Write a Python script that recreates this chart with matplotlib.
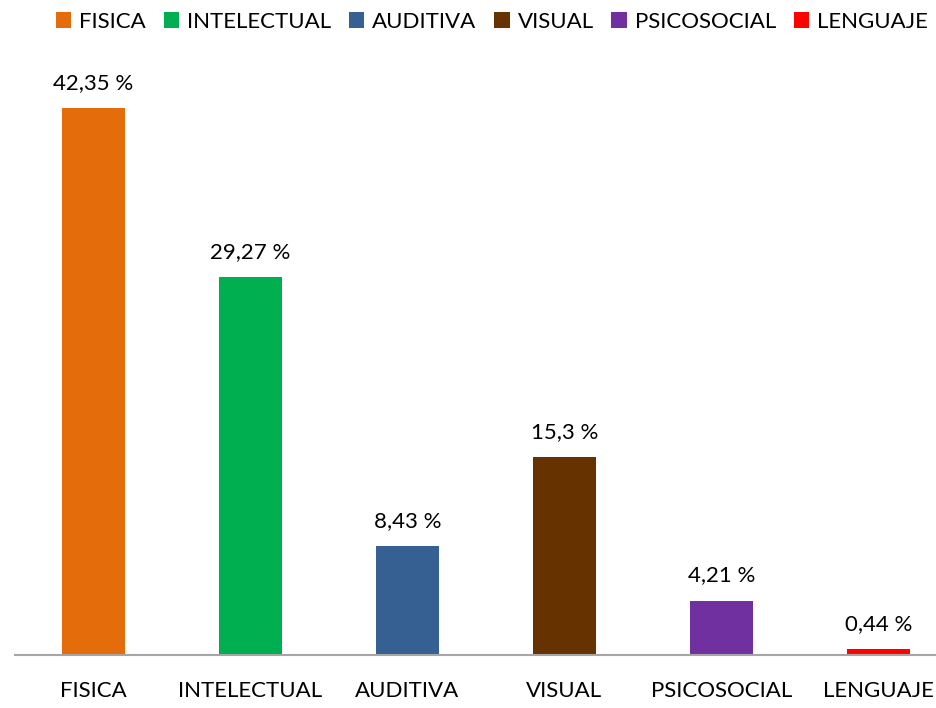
import matplotlib.pyplot as plt

plt.rcParams['font.family'] = ['Lato', 'DejaVu Sans']

categorias = ['FISICA', 'INTELECTUAL', 'AUDITIVA', 'VISUAL', 'PSICOSOCIAL', 'LENGUAJE']
porcentajes = [42.35, 29.27, 8.43, 15.3, 4.21, 0.44]
etiquetas = ['42,35 %', '29,27 %', '8,43 %', '15,3 %', '4,21 %', '0,44 %']
colores = ['#E46C0A', '#00B050', '#376092', '#663300', '#7030A0', '#FF0000']

fig = plt.figure(figsize=(9.37, 7.08), dpi=100)
# el eje se extiende un poco más allá del borde derecho
ax = fig.add_axes([15 / 937, 53 / 708, 942 / 937, 581 / 708])

x = range(len(categorias))
barras = ax.bar(x, porcentajes, width=0.4, color=colores, label=categorias)

for xi, v, txt in zip(x, porcentajes, etiquetas):
    ax.annotate(txt, (xi, v), xytext=(0, 11), textcoords='offset points',
                ha='center', va='bottom', fontsize=16, color='black')

ax.set_xlim(-0.5, 5.5)
ax.set_ylim(0, 45)
ax.set_xticks(list(x))
ax.set_xticklabels(categorias, fontsize=16)
ax.tick_params(axis='x', length=0, pad=19)
ax.set_yticks([])
for lado in ['top', 'right', 'left']:
    ax.spines[lado].set_visible(False)
ax.spines['bottom'].set_color('#A6A6A6')
ax.spines['bottom'].set_linewidth(1.5)

fig.legend(barras, categorias, loc='upper center', bbox_to_anchor=(0.525, 1.012),
           ncol=6, frameon=False, fontsize=16, handlelength=0.7, handleheight=0.7,
           handletextpad=0.35, columnspacing=0.8)

fig.savefig('out.png', dpi=100)
